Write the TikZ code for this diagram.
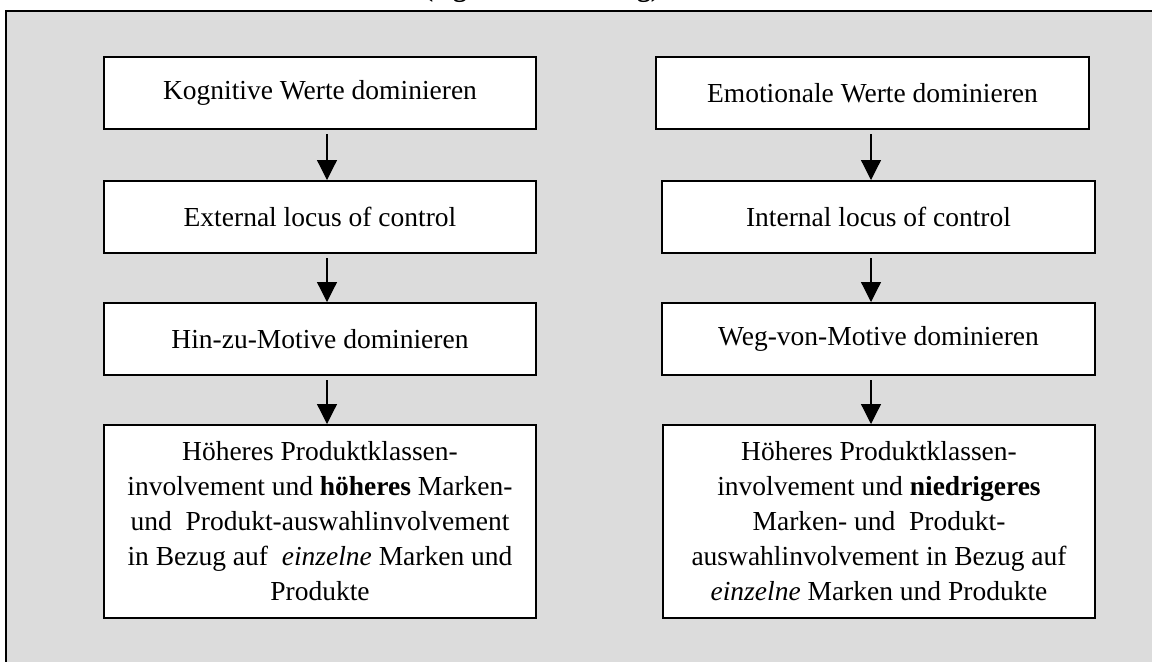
\documentclass[tikz,border=0pt]{standalone}
\usepackage{fontspec}
\setmainfont{Liberation Serif}
\usetikzlibrary{arrows.meta}
\definecolor{panelgray}{RGB}{220,220,220}
\begin{document}
\begin{tikzpicture}[x=1pt,y=-1pt,
  every node/.style={font=\fontsize{13.75}{17.5}\selectfont},
  flowbox/.style={draw=black, line width=1pt, fill=white, align=center,
    inner sep=0pt, minimum height=36pt},
  flowarrow/.style={line width=0.6pt, -{Triangle[width=10pt,length=10pt]}}]
  \useasboundingbox (0,0) rectangle (576,330.5);
  % shaded panel, open to the right and bottom
  \draw[line width=1pt, fill=panelgray] (3,5.5) rectangle (590,345);
  % heading above the panel
  \node[anchor=base, font=\fontsize{13.75}{17.5}\selectfont\bfseries] (title) at (271,-1.6) {(eigene Darstellung)};

  % left column
  \node[flowbox, minimum width=216pt] (l1) at (160,46.5) {Kognitive Werte dominieren};
  \node[flowbox, minimum width=216pt] (l2) at (160,108.5) {External locus of control};
  \node[flowbox, minimum width=216pt] (l3) at (160,169.5) {Hin-zu-Motive dominieren};
  \node[flowbox, minimum width=216pt, minimum height=96.5pt] (l4) at (160,260.75)
    {Höheres Produktklassen-\\involvement und \textbf{höheres} Marken-\\und\ \ Produkt-auswahlinvolvement\\in Bezug auf\ \ \textit{einzelne} Marken und\\Produkte};

  % right column
  \node[flowbox, minimum width=216.5pt] (r1) at (436.25,46.5) {Emotionale Werte dominieren};
  \node[flowbox, minimum width=216.5pt] (r2) at (439.25,108.5) {Internal locus of control};
  \node[flowbox, minimum width=216.5pt] (r3) at (439.25,169.5) {Weg-von-Motive dominieren};
  \node[flowbox, minimum width=216pt, minimum height=96.5pt] (r4) at (439.5,260.75)
    {Höheres Produktklassen-\\involvement und \textbf{niedrigeres}\\Marken- und\ \ Produkt-\\auswahlinvolvement in Bezug auf\\\textit{einzelne} Marken und Produkte};

  % arrow columns
  \coordinate (lx) at (163.5,0);
  \coordinate (rx) at (435.5,0);
  \foreach \a/\b in {l1/l2,l2/l3,l3/l4}
    \draw[flowarrow] ([yshift=-2pt]\a.south -| lx) -- (\b.north -| lx);
  \foreach \a/\b in {r1/r2,r2/r3,r3/r4}
    \draw[flowarrow] ([yshift=-2pt]\a.south -| rx) -- (\b.north -| rx);
\end{tikzpicture}
\end{document}
